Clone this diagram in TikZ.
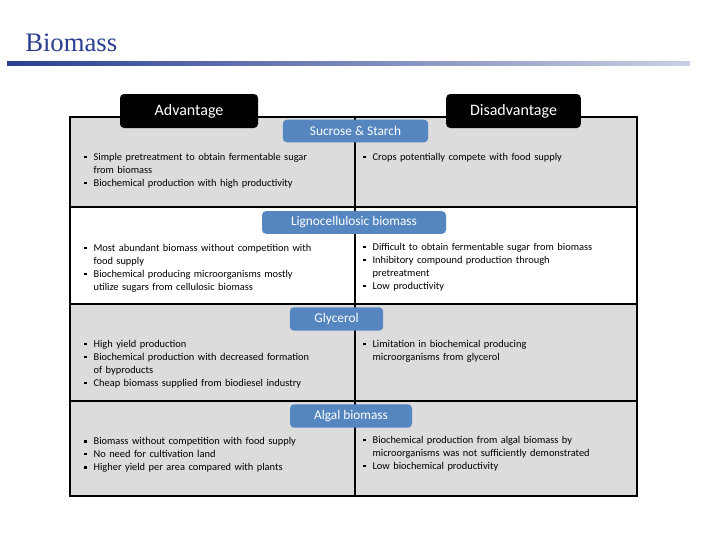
\documentclass[tikz,border=0pt]{standalone}
\usepackage{fontspec}
\setmainfont{Carlito}
\newfontfamily\titlefont{Liberation Serif}
\begin{document}
\begin{tikzpicture}[x=0.75pt,y=-0.75pt,
  hdr/.style={fill=black,rounded corners=3pt,text=white,font=\fontsize{12}{14}\selectfont,inner sep=0pt},
  cat/.style={fill=catblue,rounded corners=3pt,text=white,font=\fontsize{10}{12}\selectfont,inner sep=0pt},
  body/.style={anchor=north west,align=left,font=\fontsize{7.8}{9.75}\selectfont,inner sep=0pt,text width=205pt},
  grid/.style={line width=1.6pt}]
\definecolor{catblue}{HTML}{5586C0}
\definecolor{cellgray}{HTML}{DCDCDC}
\definecolor{titleblue}{HTML}{2A3F8F}
\useasboundingbox (0,0) rectangle (720,540);
\fill[white] (0,0) rectangle (720,540);
\node[anchor=west,text=titleblue,font=\titlefont\fontsize{20}{22}\selectfont,inner sep=0pt] (title) at (25,43) {Biomass};
\shade[left color=titleblue,right color=titleblue!25] (7,61) rectangle (690,65);
\fill[cellgray] (70,117) rectangle (637,207);
\fill[cellgray] (70,304) rectangle (637,496);
\draw[grid] (70,117) rectangle (637,496);
\draw[grid] (70,207) -- (637,207) (70,304) -- (637,304) (70,401) -- (637,401);
\draw[grid] (355,117) -- (355,496);
\newcommand{\bl}{\makebox[7pt][l]{\rule[1.5pt]{2pt}{2pt}}}
\newcommand{\ind}{\hspace*{7pt}}
\node[hdr,minimum width=103.5pt,minimum height=25.5pt] (adv) at (189,111) {Advantage};
\node[hdr,minimum width=101pt,minimum height=25.5pt] (dis) at (513.5,111) {Disadvantage};
\node[cat,minimum width=109pt,minimum height=17pt] (c1) at (355.5,131) {Sucrose \& Starch};
\node[cat,minimum width=138pt,minimum height=17pt] (c2) at (354,222.5) {Lignocellulosic biomass};
\node[cat,minimum width=70pt,minimum height=17.5pt] (c3) at (336.5,319) {Glycerol};
\node[cat,minimum width=91.5pt,minimum height=17.5pt] (c4) at (351,416) {Algal biomass};
\node[body] (a1) at (84,153) {\bl Simple pretreatment to obtain fermentable sugar\\\ind from biomass\\\bl Biochemical production with high productivity};
\node[body] (d1) at (363,153) {\bl Crops potentially compete with food supply};
\node[body] (a2) at (84,244) {\bl Most abundant biomass without competition with\\\ind food supply\\\bl Biochemical producing microorganisms mostly\\\ind utilize sugars from cellulosic biomass};
\node[body] (d2) at (363,243) {\bl Difficult to obtain fermentable sugar from biomass\\\bl Inhibitory compound production through\\\ind pretreatment\\\bl Low productivity};
\node[body] (a3) at (84,340) {\bl High yield production\\\bl Biochemical production with decreased formation\\\ind of byproducts\\\bl Cheap biomass supplied from biodiesel industry};
\node[body] (d3) at (363,340) {\bl Limitation in biochemical producing\\\ind microorganisms from glycerol};
\node[body] (a4) at (84,437) {\bl Biomass without competition with food supply\\\bl No need for cultivation land\\\bl Higher yield per area compared with plants};
\node[body] (d4) at (363,436) {\bl Biochemical production from algal biomass by\\\ind microorganisms was not sufficiently demonstrated\\\bl Low biochemical productivity};
\end{tikzpicture}
\end{document}
